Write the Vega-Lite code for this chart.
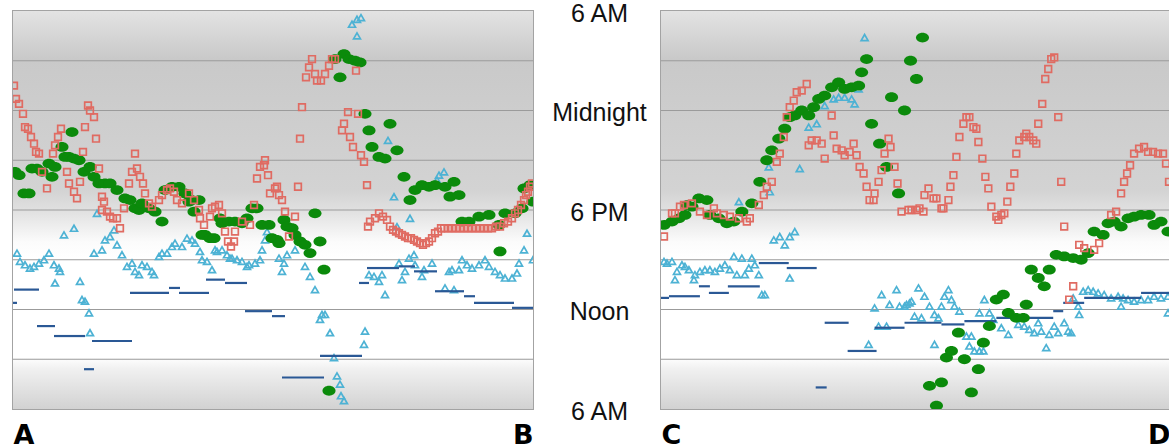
{
"$schema":"https://vega.github.io/schema/vega-lite/v6.json",
"background":"white",
"padding":{"left":11,"top":0,"right":0,"bottom":0},
"spacing":128,
"bounds":"flush",
"config":{"view":{"stroke":"#a3a3a3","strokeWidth":2}},
"datasets":{
"bgL":[{"d":0,"d2":260,"h":6,"h2":30}],
"bgR":[{"d":0,"d2":255,"h":6,"h2":30}],
"gridL":[{"d":0,"d2":260,"h":9},{"d":0,"d2":260,"h":12},{"d":0,"d2":260,"h":15},{"d":0,"d2":260,"h":18},{"d":0,"d2":260,"h":21},{"d":0,"d2":260,"h":24},{"d":0,"d2":260,"h":27}],
"gridR":[{"d":0,"d2":255,"h":9},{"d":0,"d2":255,"h":12},{"d":0,"d2":255,"h":15},{"d":0,"d2":255,"h":18},{"d":0,"d2":255,"h":21},{"d":0,"d2":255,"h":24},{"d":0,"d2":255,"h":27}],
"rL":[{"d":0.5,"h":25.5},{"d":1.5,"h":24.7},{"d":3,"h":24.4},{"d":5,"h":23.8},{"d":6,"h":23.0},{"d":7.5,"h":22.9},{"d":9,"h":22.4},{"d":10.5,"h":22.0},{"d":11.5,"h":21.5},{"d":13,"h":21.4},{"d":14.5,"h":20.3},{"d":17,"h":19.3},{"d":20,"h":21.4},{"d":21,"h":21.9},{"d":22.5,"h":22.4},{"d":24,"h":22.9},{"d":27,"h":20.3},{"d":28,"h":19.6},{"d":30.5,"h":19.1},{"d":32,"h":18.7},{"d":33.5,"h":19.7},{"d":35,"h":21.5},{"d":36,"h":23.0},{"d":37.5,"h":24.3},{"d":38.5,"h":24.0},{"d":40.5,"h":23.6},{"d":41.5,"h":22.3},{"d":43,"h":20.5},{"d":44.5,"h":18.8},{"d":44.5,"h":18.0},{"d":45.5,"h":18.5},{"d":47,"h":17.9},{"d":48.5,"h":17.6},{"d":50,"h":17.5},{"d":52,"h":17.5},{"d":53.5,"h":16.9},{"d":55.5,"h":18.1},{"d":58,"h":19.6},{"d":59.5,"h":20.3},{"d":61,"h":21.4},{"d":62,"h":20.5},{"d":63.5,"h":20.0},{"d":65,"h":19.6},{"d":66,"h":19.0},{"d":68,"h":18.4},{"d":69.5,"h":18.2},{"d":73,"h":18.6},{"d":74.5,"h":18.9},{"d":77,"h":19.2},{"d":78.5,"h":19.3},{"d":80.5,"h":19.1},{"d":82,"h":18.6},{"d":84.5,"h":18.4},{"d":88,"h":19.0},{"d":90.5,"h":18.6},{"d":93,"h":18.0},{"d":93.5,"h":17.5},{"d":95.5,"h":17.1},{"d":98.5,"h":17.6},{"d":99.5,"h":18.1},{"d":101,"h":18.2},{"d":103,"h":18.3},{"d":104.5,"h":17.8},{"d":106,"h":16.7},{"d":107.5,"h":16.1},{"d":109,"h":15.8},{"d":110.5,"h":16.1},{"d":111,"h":16.7},{"d":114.5,"h":17.3},{"d":118.5,"h":17.1},{"d":120.5,"h":18.3},{"d":122,"h":19.9},{"d":123.5,"h":20.6},{"d":125.5,"h":20.7},{"d":126,"h":21.0},{"d":127.5,"h":20.1},{"d":128.5,"h":19.0},{"d":131,"h":19.3},{"d":132,"h":19.4},{"d":133,"h":18.9},{"d":134.5,"h":18.6},{"d":136,"h":17.9},{"d":138,"h":16.4},{"d":141,"h":17.6},{"d":142.5,"h":19.4},{"d":143.5,"h":22.3},{"d":144.5,"h":24.2},{"d":146.5,"h":26.0},{"d":148,"h":26.6},{"d":149.5,"h":27.1},{"d":151,"h":26.2},{"d":152,"h":25.8},{"d":154,"h":25.8},{"d":156,"h":26.2},{"d":158,"h":26.7},{"d":159.5,"h":27.1},{"d":161,"h":27.1},{"d":164.5,"h":22.8},{"d":165.5,"h":23.2},{"d":167.5,"h":23.9},{"d":168.5,"h":22.4},{"d":170,"h":21.8},{"d":171.5,"h":26.4},{"d":172.5,"h":23.8},{"d":174,"h":21.3},{"d":175.5,"h":20.9},{"d":177,"h":19.5},{"d":177.5,"h":17.0},{"d":178.5,"h":17.3},{"d":181,"h":17.5},{"d":183,"h":17.8},{"d":185,"h":17.6},{"d":187,"h":17.4},{"d":188.5,"h":17.0},{"d":190,"h":16.8},{"d":191.5,"h":16.7},{"d":193,"h":16.6},{"d":194.5,"h":16.5},{"d":196,"h":16.4},{"d":197.5,"h":16.3},{"d":199,"h":16.3},{"d":200.5,"h":16.2},{"d":202,"h":16.1},{"d":203.5,"h":16.0},{"d":205,"h":15.9},{"d":206.5,"h":16.0},{"d":208,"h":16.1},{"d":209.5,"h":16.3},{"d":211,"h":16.6},{"d":212.5,"h":16.7},{"d":214,"h":16.9},{"d":215.5,"h":16.9},{"d":217.5,"h":16.9},{"d":219.5,"h":16.9},{"d":221.5,"h":16.9},{"d":223.5,"h":16.9},{"d":225.5,"h":16.9},{"d":227.5,"h":16.9},{"d":229.5,"h":16.9},{"d":231.5,"h":16.9},{"d":233.5,"h":16.9},{"d":235.5,"h":16.9},{"d":237.5,"h":16.9},{"d":239.5,"h":16.9},{"d":241.5,"h":17.0},{"d":243.5,"h":17.0},{"d":245.5,"h":17.2},{"d":247.5,"h":17.3},{"d":249.5,"h":17.5},{"d":251,"h":17.8},{"d":252.5,"h":18.0},{"d":254,"h":18.3},{"d":255.5,"h":18.6},{"d":256.5,"h":18.9},{"d":257.5,"h":19.1},{"d":258.5,"h":19.4},{"d":259.5,"h":19.6}],
"gL":[{"d":1,"h":20.3},{"d":3,"h":20.1},{"d":5.5,"h":19.0},{"d":8,"h":19.0},{"d":9.5,"h":20.5},{"d":12,"h":20.5},{"d":14.5,"h":20.3},{"d":18,"h":20.8},{"d":19.5,"h":20.0},{"d":21,"h":20.6},{"d":24.5,"h":21.8},{"d":26,"h":21.2},{"d":28,"h":21.2},{"d":29.5,"h":22.7},{"d":30.5,"h":21.1},{"d":33,"h":21.0},{"d":35.5,"h":20.3},{"d":38.5,"h":20.6},{"d":40.5,"h":20.0},{"d":43,"h":19.6},{"d":46,"h":19.6},{"d":48.5,"h":19.6},{"d":52,"h":19.2},{"d":56,"h":18.7},{"d":58.5,"h":18.6},{"d":61,"h":18.1},{"d":63,"h":18.0},{"d":64.5,"h":18.4},{"d":68,"h":18.1},{"d":71,"h":17.9},{"d":74.5,"h":17.3},{"d":76,"h":19.2},{"d":79.5,"h":19.4},{"d":83,"h":19.4},{"d":86,"h":19.0},{"d":88,"h":18.5},{"d":89.5,"h":18.6},{"d":93,"h":18.6},{"d":90.5,"h":17.9},{"d":94.5,"h":16.5},{"d":96,"h":16.5},{"d":98.5,"h":16.3},{"d":100.5,"h":16.3},{"d":103.5,"h":17.5},{"d":104.5,"h":17.2},{"d":108,"h":17.3},{"d":111,"h":17.3},{"d":114.5,"h":17.2},{"d":117,"h":17.5},{"d":119.5,"h":18.1},{"d":122,"h":18.1},{"d":124.5,"h":17.1},{"d":128,"h":17.1},{"d":129.5,"h":16.3},{"d":132,"h":16.2},{"d":133,"h":16.0},{"d":135.5,"h":17.4},{"d":137,"h":17.0},{"d":139.5,"h":16.9},{"d":141,"h":16.5},{"d":143.5,"h":16.1},{"d":146,"h":15.9},{"d":148.5,"h":15.4},{"d":151,"h":17.8},{"d":153.5,"h":16.1},{"d":155.5,"h":14.4},{"d":158,"h":7.1},{"d":161,"h":27.1},{"d":163.5,"h":26.0},{"d":165.5,"h":27.4},{"d":168,"h":27.1},{"d":171,"h":27.0},{"d":173.5,"h":26.9},{"d":176,"h":23.8},{"d":178,"h":22.8},{"d":179.5,"h":21.8},{"d":183,"h":21.2},{"d":186,"h":21.1},{"d":188.5,"h":23.2},{"d":192,"h":21.6},{"d":195.5,"h":20.0},{"d":198.5,"h":18.6},{"d":201,"h":19.2},{"d":204.5,"h":19.5},{"d":208,"h":19.4},{"d":211,"h":19.5},{"d":216,"h":19.4},{"d":218.5,"h":18.8},{"d":220.5,"h":19.7},{"d":223,"h":18.9},{"d":224.5,"h":17.3},{"d":228,"h":17.3},{"d":233,"h":17.6},{"d":238,"h":17.7},{"d":243,"h":17.1},{"d":243.5,"h":15.5},{"d":246,"h":17.8},{"d":251,"h":17.8},{"d":254.5,"h":18.1},{"d":255.5,"h":19.3},{"d":258.5,"h":19.5},{"d":260,"h":18.5}],
"bL":[{"d":2,"h":15.4},{"d":3.5,"h":14.9},{"d":6,"h":14.7},{"d":8.5,"h":14.5},{"d":10.5,"h":14.6},{"d":13,"h":14.8},{"d":15.5,"h":15.0},{"d":18,"h":15.4},{"d":20.5,"h":14.7},{"d":23,"h":14.5},{"d":23.5,"h":14.3},{"d":21,"h":13.6},{"d":25.5,"h":16.5},{"d":30.5,"h":16.9},{"d":33.5,"h":13.7},{"d":34.5,"h":12.6},{"d":36,"h":12.5},{"d":38,"h":11.8},{"d":38.5,"h":10.6},{"d":42,"h":17.8},{"d":40.5,"h":15.4},{"d":44.5,"h":15.6},{"d":46,"h":16.2},{"d":48.5,"h":16.4},{"d":50.5,"h":16.8},{"d":52,"h":15.9},{"d":54.5,"h":15.3},{"d":57,"h":14.6},{"d":59.5,"h":14.8},{"d":61,"h":14.3},{"d":63,"h":14.1},{"d":64.5,"h":14.7},{"d":67,"h":14.6},{"d":69.5,"h":14.3},{"d":70.5,"h":14.1},{"d":73,"h":15.2},{"d":74.5,"h":15.4},{"d":77,"h":15.4},{"d":79.5,"h":15.8},{"d":81,"h":16.0},{"d":84.5,"h":15.8},{"d":87,"h":16.3},{"d":89.5,"h":16.2},{"d":91,"h":16.0},{"d":93.5,"h":15.5},{"d":94.5,"h":15.0},{"d":97,"h":14.9},{"d":99.5,"h":14.4},{"d":101,"h":15.6},{"d":102,"h":15.5},{"d":104.5,"h":15.6},{"d":107,"h":15.3},{"d":108.5,"h":15.1},{"d":109.5,"h":15.1},{"d":112,"h":15.0},{"d":114.5,"h":14.9},{"d":117,"h":14.6},{"d":118,"h":14.7},{"d":121,"h":14.8},{"d":123.5,"h":15.0},{"d":124.5,"h":15.6},{"d":126,"h":16.2},{"d":127,"h":16.7},{"d":133,"h":15.1},{"d":134.5,"h":14.3},{"d":135.5,"h":14.8},{"d":137,"h":15.3},{"d":141,"h":15.6},{"d":146,"h":14.6},{"d":148.5,"h":14.0},{"d":151,"h":13.2},{"d":153.5,"h":11.4},{"d":154.5,"h":11.7},{"d":156,"h":11.7},{"d":158.5,"h":10.6},{"d":160.5,"h":9.1},{"d":162,"h":8.0},{"d":163.5,"h":7.5},{"d":164,"h":6.8},{"d":165.5,"h":6.5},{"d":169.5,"h":29.2},{"d":172,"h":29.5},{"d":174,"h":29.6},{"d":172,"h":28.5},{"d":175.5,"h":9.9},{"d":176,"h":10.7},{"d":178,"h":14.1},{"d":180.5,"h":14.0},{"d":183,"h":13.7},{"d":184.5,"h":14.1},{"d":186,"h":12.9},{"d":187.5,"h":22.2},{"d":190.5,"h":18.8},{"d":192,"h":17.0},{"d":193,"h":14.8},{"d":194.5,"h":13.8},{"d":196,"h":14.3},{"d":198,"h":15.1},{"d":198.5,"h":17.5},{"d":200.5,"h":15.3},{"d":201,"h":14.7},{"d":204.5,"h":14.0},{"d":205.5,"h":14.4},{"d":209.5,"h":14.8},{"d":212,"h":19.8},{"d":213,"h":20.1},{"d":215.5,"h":20.3},{"d":216,"h":13.3},{"d":218,"h":14.3},{"d":219.5,"h":14.4},{"d":220.5,"h":13.2},{"d":223,"h":14.4},{"d":224.5,"h":15.0},{"d":227,"h":14.7},{"d":229.5,"h":14.5},{"d":233,"h":14.7},{"d":236,"h":15.0},{"d":238,"h":14.6},{"d":241,"h":14.3},{"d":243.5,"h":14.1},{"d":246,"h":13.9},{"d":249.5,"h":13.9},{"d":252,"h":14.2},{"d":253,"h":14.8},{"d":255.5,"h":15.6},{"d":257,"h":16.6},{"d":260,"h":15.0}],
"dL":[{"d":0,"d2":2,"h":12.4},{"d":0.5,"d2":13,"h":13.2},{"d":12,"d2":21,"h":11.0},{"d":20.5,"d2":36,"h":10.4},{"d":35.5,"d2":40.5,"h":8.4},{"d":39.5,"d2":59.5,"h":10.1},{"d":58.5,"d2":78,"h":13.0},{"d":78,"d2":83.5,"h":13.3},{"d":83,"d2":98,"h":13.0},{"d":96.5,"d2":106,"h":13.8},{"d":106,"d2":117,"h":13.6},{"d":116,"d2":129.5,"h":11.9},{"d":129.5,"d2":136,"h":11.6},{"d":134.5,"d2":155.5,"h":7.9},{"d":153.5,"d2":174.5,"h":9.2},{"d":173,"d2":178,"h":13.6},{"d":177,"d2":193,"h":14.5},{"d":193,"d2":201,"h":14.6},{"d":200.5,"d2":212,"h":14.3},{"d":211,"d2":225.5,"h":13.1},{"d":225.5,"d2":231,"h":12.8},{"d":230.5,"d2":250.5,"h":12.4},{"d":249.5,"d2":260,"h":12.1}],
"gR":[{"d":1.5,"h":17.1},{"d":5.5,"h":17.3},{"d":9,"h":17.5},{"d":12,"h":17.7},{"d":13,"h":18.3},{"d":15.5,"h":18.2},{"d":19,"h":18.7},{"d":23,"h":18.6},{"d":24.5,"h":17.7},{"d":29,"h":17.5},{"d":33,"h":17.2},{"d":36.5,"h":17.3},{"d":40.5,"h":17.9},{"d":45.5,"h":18.4},{"d":49.5,"h":19.7},{"d":53,"h":21.0},{"d":55.5,"h":21.6},{"d":59,"h":22.3},{"d":62,"h":22.9},{"d":64.5,"h":23.6},{"d":67,"h":23.7},{"d":70.5,"h":24.0},{"d":74,"h":23.7},{"d":76.5,"h":24.2},{"d":79,"h":24.7},{"d":82,"h":24.9},{"d":85.5,"h":25.4},{"d":89,"h":25.7},{"d":92,"h":25.3},{"d":95.5,"h":25.4},{"d":99,"h":25.5},{"d":100.5,"h":26.3},{"d":103,"h":27.1},{"d":105.5,"h":23.2},{"d":109.5,"h":22.0},{"d":113,"h":20.6},{"d":115.5,"h":24.8},{"d":119,"h":19.0},{"d":122,"h":24.0},{"d":125,"h":27.0},{"d":128,"h":25.9},{"d":131,"h":28.4},{"d":134.5,"h":7.4},{"d":138,"h":6.2},{"d":140.5,"h":7.6},{"d":143,"h":9.1},{"d":145.5,"h":9.5},{"d":149,"h":10.6},{"d":152,"h":9.0},{"d":155.5,"h":7.0},{"d":159,"h":8.4},{"d":161.5,"h":10.0},{"d":164.5,"h":11.0},{"d":168,"h":12.6},{"d":171.5,"h":12.9},{"d":174,"h":11.8},{"d":178,"h":11.5},{"d":181.5,"h":11.5},{"d":183,"h":12.3},{"d":185.5,"h":14.4},{"d":189,"h":13.9},{"d":192,"h":13.4},{"d":194.5,"h":14.4},{"d":198,"h":15.3},{"d":202,"h":15.2},{"d":206.5,"h":15.1},{"d":210.5,"h":15.0},{"d":214,"h":15.4},{"d":217,"h":16.7},{"d":221.5,"h":16.5},{"d":224,"h":17.2},{"d":227,"h":17.3},{"d":230.5,"h":17.0},{"d":234,"h":17.5},{"d":237,"h":17.6},{"d":240.5,"h":17.7},{"d":244.5,"h":17.7},{"d":247,"h":17.1},{"d":250.5,"h":17.3},{"d":254,"h":16.7}],
"rR":[{"d":1.5,"h":16.4},{"d":5.5,"h":17.8},{"d":7,"h":17.8},{"d":9.5,"h":18.2},{"d":11.5,"h":18.3},{"d":15.5,"h":18.4},{"d":19.5,"h":17.9},{"d":23,"h":17.7},{"d":26.5,"h":18.1},{"d":28,"h":17.8},{"d":31.5,"h":17.7},{"d":34.5,"h":17.6},{"d":39,"h":17.5},{"d":43,"h":17.3},{"d":44.5,"h":17.5},{"d":49,"h":18.3},{"d":51.5,"h":18.9},{"d":53,"h":19.4},{"d":55.5,"h":19.7},{"d":58,"h":20.9},{"d":59.5,"h":21.4},{"d":61.5,"h":22.4},{"d":63,"h":23.6},{"d":64.5,"h":24.2},{"d":66.5,"h":24.6},{"d":68,"h":25.1},{"d":70.5,"h":25.2},{"d":73,"h":25.6},{"d":74,"h":21.9},{"d":75.5,"h":22.2},{"d":78,"h":22.2},{"d":80.5,"h":22.0},{"d":82,"h":21.1},{"d":85.5,"h":23.7},{"d":86.5,"h":22.5},{"d":88,"h":21.7},{"d":90.5,"h":21.6},{"d":92,"h":21.3},{"d":94.5,"h":21.5},{"d":96.5,"h":22.0},{"d":98,"h":21.3},{"d":99.5,"h":20.6},{"d":101.5,"h":20.2},{"d":103,"h":19.4},{"d":104.5,"h":18.6},{"d":106.5,"h":18.6},{"d":107,"h":19.0},{"d":109,"h":19.7},{"d":110.5,"h":20.4},{"d":112,"h":21.4},{"d":114,"h":22.3},{"d":115,"h":21.8},{"d":117,"h":20.6},{"d":118.5,"h":19.6},{"d":120.5,"h":17.9},{"d":124,"h":18.0},{"d":125.5,"h":18.0},{"d":128,"h":18.0},{"d":129.5,"h":18.1},{"d":131.5,"h":17.9},{"d":132,"h":18.9},{"d":134,"h":19.3},{"d":136.5,"h":18.7},{"d":138,"h":18.7},{"d":140.5,"h":18.1},{"d":141.5,"h":18.1},{"d":144,"h":18.6},{"d":145,"h":19.4},{"d":146.5,"h":20.1},{"d":148,"h":21.2},{"d":149.5,"h":22.4},{"d":151.5,"h":23.2},{"d":153,"h":23.6},{"d":154.5,"h":23.6},{"d":156.5,"h":23.0},{"d":158,"h":22.9},{"d":159,"h":22.1},{"d":161,"h":21.1},{"d":162.5,"h":20.0},{"d":164,"h":19.3},{"d":165.5,"h":18.2},{"d":168,"h":17.6},{"d":169,"h":17.4},{"d":170.5,"h":17.7},{"d":172,"h":17.8},{"d":173.5,"h":18.5},{"d":175,"h":19.4},{"d":177,"h":20.2},{"d":178,"h":21.4},{"d":179.5,"h":22.2},{"d":182,"h":22.4},{"d":183,"h":22.6},{"d":184.5,"h":22.4},{"d":186.5,"h":22.2},{"d":188,"h":22.0},{"d":189,"h":23.2},{"d":191,"h":24.4},{"d":192.5,"h":25.9},{"d":194,"h":26.5},{"d":195.5,"h":27.1},{"d":197,"h":27.2},{"d":199,"h":23.6},{"d":200.5,"h":19.7},{"d":202,"h":17.0},{"d":204.5,"h":12.6},{"d":206.5,"h":13.4},{"d":209.5,"h":15.9},{"d":212,"h":15.7},{"d":217,"h":15.6},{"d":219.5,"h":16.0},{"d":225.5,"h":17.7},{"d":228,"h":17.9},{"d":230.5,"h":19.0},{"d":232,"h":19.7},{"d":233.5,"h":20.2},{"d":235,"h":20.7},{"d":237,"h":21.4},{"d":239.5,"h":21.7},{"d":242,"h":21.8},{"d":244,"h":21.5},{"d":246.5,"h":21.5},{"d":249,"h":21.4},{"d":251.5,"h":21.4},{"d":253,"h":20.8},{"d":254.5,"h":19.7}],
"bR":[{"d":1.5,"h":14.9},{"d":3,"h":14.8},{"d":5.5,"h":14.9},{"d":7,"h":13.8},{"d":8,"h":14.3},{"d":10.5,"h":14.7},{"d":12,"h":14.6},{"d":14,"h":14.4},{"d":16.5,"h":13.8},{"d":17,"h":14.1},{"d":19.5,"h":14.3},{"d":22,"h":14.4},{"d":24.5,"h":14.4},{"d":27,"h":14.3},{"d":29.5,"h":14.5},{"d":32,"h":14.7},{"d":34.5,"h":14.4},{"d":36.5,"h":15.2},{"d":38,"h":14.1},{"d":40.5,"h":15.1},{"d":42,"h":14.1},{"d":44,"h":14.5},{"d":45.5,"h":15.1},{"d":47,"h":14.7},{"d":49,"h":14.1},{"d":50.5,"h":12.9},{"d":52,"h":12.9},{"d":39,"h":18.5},{"d":54.5,"h":19.1},{"d":54,"h":20.6},{"d":56.5,"h":16.2},{"d":59.5,"h":16.4},{"d":62,"h":15.9},{"d":64.5,"h":16.4},{"d":67,"h":16.7},{"d":64.5,"h":13.9},{"d":69.5,"h":20.5},{"d":74,"h":23.0},{"d":78,"h":23.2},{"d":82,"h":24.3},{"d":86.5,"h":24.7},{"d":89,"h":24.8},{"d":92,"h":24.8},{"d":95.5,"h":24.7},{"d":97,"h":24.4},{"d":99,"h":25.3},{"d":102,"h":28.4},{"d":104,"h":9.9},{"d":107,"h":12.1},{"d":109,"h":11.0},{"d":110.5,"h":12.9},{"d":113,"h":11.0},{"d":114.5,"h":12.3},{"d":118,"h":13.2},{"d":119.5,"h":12.2},{"d":122,"h":12.2},{"d":123,"h":12.3},{"d":124.5,"h":12.4},{"d":125.5,"h":12.5},{"d":127,"h":11.6},{"d":129,"h":13.3},{"d":130.5,"h":11.5},{"d":132,"h":12.8},{"d":134.5,"h":12.2},{"d":137,"h":11.7},{"d":137,"h":9.9},{"d":139,"h":11.5},{"d":140.5,"h":12.2},{"d":142,"h":12.8},{"d":144,"h":13.2},{"d":145.5,"h":12.6},{"d":147,"h":12.2},{"d":149.5,"h":11.9},{"d":153,"h":10.4},{"d":154.5,"h":9.8},{"d":155.5,"h":10.4},{"d":157,"h":9.5},{"d":159.5,"h":9.5},{"d":159.5,"h":11.8},{"d":161.5,"h":9.5},{"d":162,"h":12.6},{"d":164.5,"h":11.8},{"d":166.5,"h":11.4},{"d":170.5,"h":10.9},{"d":174,"h":10.5},{"d":179,"h":11.1},{"d":182,"h":11.0},{"d":184.5,"h":10.8},{"d":187,"h":10.6},{"d":189,"h":11.2},{"d":190.5,"h":10.7},{"d":193,"h":9.7},{"d":194.5,"h":10.5},{"d":197,"h":11.0},{"d":199,"h":10.6},{"d":202,"h":11.2},{"d":204,"h":10.7},{"d":205.5,"h":10.6},{"d":206.5,"h":12.7},{"d":209,"h":12.2},{"d":209.5,"h":11.7},{"d":211.5,"h":13.1},{"d":214,"h":13.2},{"d":216.5,"h":13.1},{"d":219,"h":13.0},{"d":222,"h":12.9},{"d":225.5,"h":12.7},{"d":229,"h":12.8},{"d":230.5,"h":12.2},{"d":231.5,"h":12.7},{"d":234,"h":12.6},{"d":237,"h":12.5},{"d":240.5,"h":12.6},{"d":244,"h":12.6},{"d":247,"h":12.8},{"d":250.5,"h":12.7},{"d":254,"h":12.8},{"d":254,"h":11.8}],
"dR":[{"d":0,"d2":4,"h":12.7},{"d":4,"d2":19.5,"h":12.8},{"d":19,"d2":24.5,"h":13.4},{"d":24,"d2":34,"h":13.0},{"d":33.5,"d2":49.5,"h":13.4},{"d":49,"d2":64,"h":14.8},{"d":63,"d2":78,"h":14.5},{"d":77.5,"d2":83,"h":7.3},{"d":82,"d2":94,"h":11.2},{"d":93.5,"d2":108,"h":9.5},{"d":107,"d2":122,"h":10.9},{"d":122,"d2":140.5,"h":11.2},{"d":140.5,"d2":152,"h":11.1},{"d":152,"d2":168,"h":11.3},{"d":168,"d2":196.5,"h":11.5},{"d":196.5,"d2":201.5,"h":11.9},{"d":201.5,"d2":212,"h":12.4},{"d":212,"d2":240.5,"h":12.7},{"d":240.5,"d2":255,"h":13.0}]
},
"hconcat":[
{
"width":520,"height":398,
"encoding":{
"x":{"field":"d","type":"quantitative","scale":{"domain":[0,260],"nice":false,"zero":false},"axis":{"values":[0,260],"labelExpr":"datum.value == 0 ? 'A' : 'B'","labelFlush":true,"ticks":false,"tickSize":0,"domain":false,"grid":false,"title":null,"labelFont":"DejaVu Sans","labelFontWeight":"bold","labelFontSize":27,"labelColor":"#000000","labelPadding":13,"labelOverlap":false}},
"y":{"field":"h","type":"quantitative","scale":{"domain":[6,30],"nice":false,"zero":false},"axis":null}},
"layer":[
{"data":{"name":"bgL"},
"mark":{"type":"rect","fill":{"gradient":"linear","x1":0,"y1":0,"x2":0,"y2":1,"stops":[{"offset":0,"color":"#e3e3e3"},{"offset":0.12,"color":"#c9c9c9"},{"offset":0.45,"color":"#d3d3d3"},{"offset":0.5,"color":"#e0e0e0"},{"offset":0.58,"color":"#fbfbfb"},{"offset":0.62,"color":"#ffffff"},{"offset":0.87,"color":"#ffffff"},{"offset":0.9,"color":"#f0f0f0"},{"offset":1,"color":"#d2d2d2"}]}},
"encoding":{"x2":{"field":"d2"},"y2":{"field":"h2"}}},
{"data":{"name":"gridL"},"mark":{"type":"rule","color":"#9b9b9b","strokeWidth":1.2},"encoding":{"x2":{"field":"d2"}}},
{"data":{"name":"bL"},"mark":{"type":"point","shape":"triangle-up","filled":false,"stroke":"#4db2d4","strokeWidth":1.7,"size":48,"opacity":1,"clip":true},"encoding":{}},
{"data":{"name":"dL"},"mark":{"type":"rule","color":"#2a5895","strokeWidth":2.2,"clip":true},"encoding":{"x2":{"field":"d2"}}},
{"data":{"name":"gL"},"mark":{"type":"point","shape":"M -1 0 A 1 0.75 0 1 0 1 0 A 1 0.75 0 1 0 -1 0 Z","filled":true,"fill":"#0b8a0b","strokeWidth":0,"size":170,"opacity":1,"clip":true},"encoding":{}},
{"data":{"name":"rL"},"mark":{"type":"point","shape":"square","filled":false,"stroke":"#e06b62","strokeWidth":1.7,"size":44,"opacity":1,"clip":true},"encoding":{}}
]},
{
"width":509,"height":398,
"encoding":{
"x":{"field":"d","type":"quantitative","scale":{"domain":[0,255],"nice":false,"zero":false},"axis":{"values":[0,255],"labelExpr":"datum.value == 0 ? 'C' : 'D'","labelFlush":true,"ticks":false,"tickSize":0,"domain":false,"grid":false,"title":null,"labelFont":"DejaVu Sans","labelFontWeight":"bold","labelFontSize":27,"labelColor":"#000000","labelPadding":13,"labelOverlap":false}},
"y":{"field":"h","type":"quantitative","scale":{"domain":[6,30],"nice":false,"zero":false},"axis":{"values":[6,12,18,24,30],"labelExpr":"datum.value == 12 ? 'Noon' : datum.value == 18 ? '6 PM' : datum.value == 24 ? 'Midnight' : '6 AM'","ticks":false,"tickSize":0,"domain":false,"grid":false,"title":null,"labelFont":"Liberation Sans","labelFontSize":25,"labelColor":"#111111","labelAlign":"center","labelBaseline":"middle","labelPadding":62,"labelOffset":2,"labelOverlap":false,"labelFlush":false,"labelBound":false}}},
"layer":[
{"data":{"name":"bgR"},
"mark":{"type":"rect","fill":{"gradient":"linear","x1":0,"y1":0,"x2":0,"y2":1,"stops":[{"offset":0,"color":"#e3e3e3"},{"offset":0.12,"color":"#c9c9c9"},{"offset":0.45,"color":"#d3d3d3"},{"offset":0.5,"color":"#e0e0e0"},{"offset":0.58,"color":"#fbfbfb"},{"offset":0.62,"color":"#ffffff"},{"offset":0.87,"color":"#ffffff"},{"offset":0.9,"color":"#f0f0f0"},{"offset":1,"color":"#d2d2d2"}]}},
"encoding":{"x2":{"field":"d2"},"y2":{"field":"h2"}}},
{"data":{"name":"gridR"},"mark":{"type":"rule","color":"#9b9b9b","strokeWidth":1.2},"encoding":{"x2":{"field":"d2"}}},
{"data":{"name":"bR"},"mark":{"type":"point","shape":"triangle-up","filled":false,"stroke":"#4db2d4","strokeWidth":1.7,"size":48,"opacity":1,"clip":true},"encoding":{}},
{"data":{"name":"dR"},"mark":{"type":"rule","color":"#2a5895","strokeWidth":2.2,"clip":true},"encoding":{"x2":{"field":"d2"}}},
{"data":{"name":"gR"},"mark":{"type":"point","shape":"M -1 0 A 1 0.75 0 1 0 1 0 A 1 0.75 0 1 0 -1 0 Z","filled":true,"fill":"#0b8a0b","strokeWidth":0,"size":170,"opacity":1,"clip":true},"encoding":{}},
{"data":{"name":"rR"},"mark":{"type":"point","shape":"square","filled":false,"stroke":"#e06b62","strokeWidth":1.7,"size":44,"opacity":1,"clip":true},"encoding":{}}
]}
]
}
